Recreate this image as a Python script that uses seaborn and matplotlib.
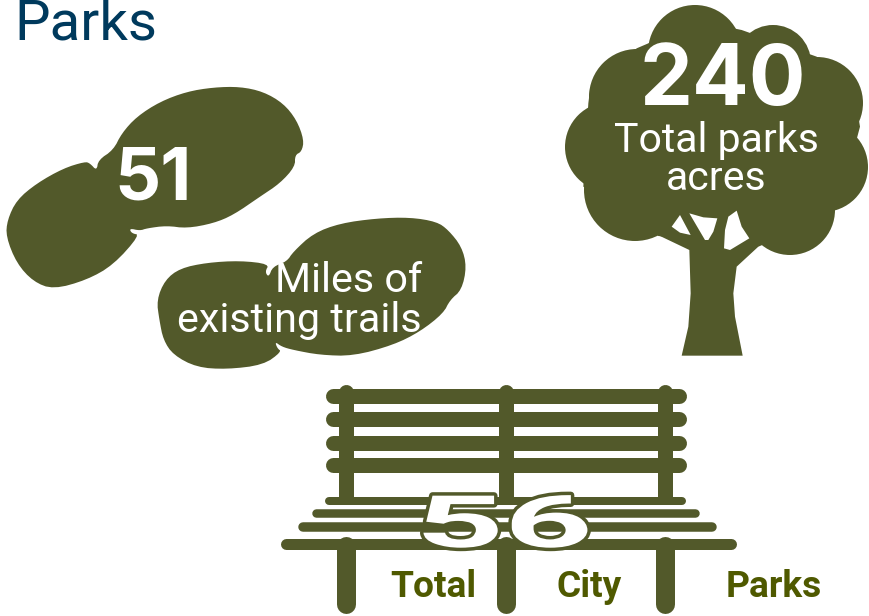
import numpy as np
import pandas as pd
import seaborn as sns
import matplotlib
matplotlib.use("Agg")
import matplotlib.pyplot as plt
import matplotlib.patheffects as pe
from matplotlib.patches import Polygon
from matplotlib.transforms import Affine2D

title = "Parks"
trail_miles = 51
trail_label = ["Miles of", "existing trails"]
park_acres = 240
acres_label = ["Total parks", "acres"]
city_parks = 56
bench_words = ["Total", "City", "Parks"]

olive = "#52592a"
word_olive = "#4f5900"
navy = "#003a5d"

# everything below is in picture pixels
sns.set_theme(style="white")
plt.rcParams["font.family"] = ["Roboto", "DejaVu Sans"]
fig = plt.figure(figsize=(8.69, 6.16), dpi=100)
ax = fig.add_axes([0, 0, 1, 1])


def smooth(pts, n=2):
    # corner cutting so the outlines dont look like polygons
    pts = np.array(pts, dtype=float)
    for _ in range(n):
        nxt = np.roll(pts, -1, axis=0)
        pts = np.column_stack([0.75 * pts + 0.25 * nxt, 0.25 * pts + 0.75 * nxt]).reshape(-1, 2)
    return pts


def zoomed(pts, x0, y0):
    return [(x0 + a / 3, y0 + b / 3) for a, b in pts]


# footprints
shoe1 = [(270, 250), (290, 272), (295, 240), (340, 210), (365, 160), (410, 110), (480, 65), (560, 35),
         (640, 22), (720, 20), (790, 35), (850, 70), (890, 120), (912, 180), (905, 215), (885, 225),
         (885, 260), (840, 310), (780, 350), (700, 405), (640, 430), (560, 445), (500, 437), (440, 445),
         (420, 452), (388, 445), (395, 460), (420, 465), (340, 555), (260, 600), (160, 628), (100, 605),
         (50, 550), (18, 470), (22, 420), (50, 360), (110, 310), (190, 265), (255, 245)]
shoe2 = [(470, 660), (495, 600), (540, 565), (620, 548), (720, 542), (808, 552), (795, 575), (806, 592),
         (818, 560), (860, 545), (880, 515), (940, 460), (1020, 430), (1130, 415), (1230, 412), (1310, 425),
         (1345, 450), (1385, 500), (1400, 560), (1385, 630), (1350, 660), (1330, 700), (1260, 755),
         (1180, 795), (1060, 828), (960, 825), (880, 810), (845, 800), (825, 785), (832, 805), (845, 815),
         (790, 855), (680, 868), (590, 862), (520, 825), (490, 780), (478, 720)]
for s in [shoe1, shoe2]:
    ax.add_patch(Polygon(smooth(zoomed(s, 0, 80)), closed=True, fc=olive, ec="none"))

# tree crown as big round markers
crown = pd.DataFrame({
    "x": [695, 773, 817, 823, 790, 637, 610, 635],
    "y": [52, 63, 103, 167, 210, 97, 147, 190],
    "r": [47, 38, 46, 45, 45, 48, 45, 51],
})
crown["area"] = (crown["r"] * 2 * 0.72) ** 2
sns.scatterplot(data=crown, x="x", y="y", size="area", sizes=(crown["area"].min(), crown["area"].max()),
                color=olive, linewidth=0, legend=False, ax=ax)
crown_fill = [(265, 130), (400, 60), (545, 90), (770, 170), (885, 290), (900, 380), (835, 625), (690, 700), (595, 740),
              (295, 708), (225, 650), (70, 560), (85, 310), (90, 270), (230, 145)]
ax.add_patch(Polygon(zoomed(crown_fill, 560, 0), closed=True, fc=olive, ec="none"))
trunk = [(365, 1067), (548, 1067), (525, 950), (520, 880), (530, 800), (595, 740), (560, 600), (350, 600),
         (300, 708), (388, 750), (392, 880), (385, 980)]
ax.add_patch(Polygon(zoomed(trunk, 560, 0), closed=True, fc=olive, ec="none"))
holes = [[(335, 680), (360, 645), (392, 705), (360, 698)],
         [(388, 640), (430, 652), (472, 655), (460, 695), (445, 720), (435, 720)],
         [(505, 650), (530, 632), (545, 680), (568, 715), (510, 750), (492, 745), (495, 690)]]
for h in holes:
    ax.add_patch(Polygon(zoomed(h, 560, 0), closed=True, fc="white", ec="none", zorder=3))

# bench
back_y = [396, 419, 443, 465]
for y in back_y:
    sns.lineplot(x=[333, 679], y=[y, y], color=olive, lw=15 * 0.72, estimator=None, sort=False,
                 solid_capstyle="round", ax=ax)
seat = [(501, 329, 682, 8), (513, 316, 695, 8.5), (527, 303, 712, 9.5), (544, 286, 731, 11)]
for y, x1, x2, w in seat:
    sns.lineplot(x=[x1, x2], y=[y, y], color=olive, lw=w * 0.72, estimator=None, sort=False,
                 solid_capstyle="round", ax=ax)
for x in [346, 505.5, 665]:
    sns.lineplot(x=[x, x], y=[392, 497], color=olive, lw=15 * 0.72, estimator=None, sort=False,
                 solid_capstyle="round", ax=ax)
    sns.lineplot(x=[x, x], y=[546, 604], color=olive, lw=19 * 0.72, estimator=None, sort=False,
                 solid_capstyle="round", ax=ax)


class Stretch(pe.AbstractPathEffect):
    # widens the digits so they lie flat on the seat
    def __init__(self, x0, fx, lw=0, stroke=None):
        super().__init__()
        self.x0, self.fx, self.lw, self.stroke = x0, fx, lw, stroke

    def draw_path(self, renderer, gc, tpath, affine, rgbFace=None):
        aff = affine + Affine2D().translate(-self.x0, 0).scale(self.fx, 1).translate(self.x0, 0)
        if self.stroke:
            gc0 = renderer.new_gc()
            gc0.copy_properties(gc)
            gc0.set_linewidth(self.lw)
            gc0.set_foreground(self.stroke)
            renderer.draw_path(gc0, tpath, aff, rgbFace)
            gc0.restore()
        else:
            renderer.draw_path(gc, tpath, aff, rgbFace)


ax.text(504, 547, str(city_parks), fontsize=52, fontweight="bold", color="white", ha="center", va="baseline",
        zorder=6, path_effects=[Stretch(504, 2.14, 5, olive), Stretch(504, 2.14)])

# texts
big = ["Inter", "Roboto", "DejaVu Sans"]
ax.text(14, 39, title, fontsize=40.6, color=navy, ha="left", va="baseline")
ax.text(153, 200, str(trail_miles), fontsize=52, fontweight="bold", color="white", ha="center", va="baseline",
        zorder=5, family=big)
ax.text(422, 292, trail_label[0], fontsize=29.7, color="white", ha="right", va="baseline", zorder=5)
ax.text(422, 332, trail_label[1], fontsize=29.7, color="white", ha="right", va="baseline", zorder=5)
ax.text(723, 105, str(park_acres), fontsize=60.5, fontweight="bold", color="white", ha="center", va="baseline",
        zorder=5, family=big)
ax.text(716, 152, acres_label[0], fontsize=29.5, color="white", ha="center", va="baseline", zorder=5)
ax.text(716, 190, acres_label[1], fontsize=29.5, color="white", ha="center", va="baseline", zorder=5)
for x, w in zip([390, 556, 726], bench_words):
    ax.text(x, 597, w, fontsize=26.7, fontweight="bold", color=word_olive, ha="left", va="baseline")

ax.set_xlim(0, 869)
ax.set_ylim(616, 0)
ax.axis("off")
fig.savefig("out.png", dpi=100)
